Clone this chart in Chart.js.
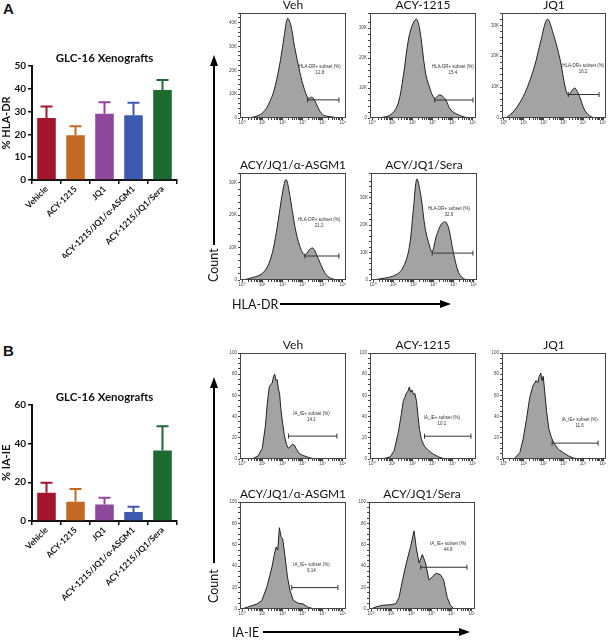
<!DOCTYPE html>
<html><head><meta charset="utf-8">
<script src="https://cdn.jsdelivr.net/npm/chart.js@4/dist/chart.umd.min.js"></script>
<style>
body{margin:0;background:#fff;width:609px;height:640px;position:relative;overflow:hidden;font-family:Lato,sans-serif}
.box{position:absolute}
.lbl{position:absolute;white-space:nowrap;color:#111}
</style></head><body>

<div class="lbl" style="left:3px;top:0px;font:bold 15px Arial">A</div>
<div class="lbl" style="left:3px;top:342px;font:bold 15px Arial">B</div>

<div class="box" style="left:0;top:46px;width:182px;height:212px"><canvas id="barA"></canvas></div>
<div class="box" style="left:0;top:385px;width:182px;height:217px"><canvas id="barB"></canvas></div>

<div class="box" style="left:218px;top:-2px;width:130px;height:132px"><canvas id="hA1"></canvas></div>
<div class="box" style="left:348px;top:-2px;width:130px;height:132px"><canvas id="hA2"></canvas></div>
<div class="box" style="left:480px;top:-2px;width:128px;height:132px"><canvas id="hA3"></canvas></div>
<div class="box" style="left:218px;top:158px;width:130px;height:134px"><canvas id="hA4"></canvas></div>
<div class="box" style="left:349px;top:158px;width:130px;height:134px"><canvas id="hA5"></canvas></div>

<div class="box" style="left:218px;top:338px;width:130px;height:133px"><canvas id="hB1"></canvas></div>
<div class="box" style="left:348px;top:338px;width:130px;height:133px"><canvas id="hB2"></canvas></div>
<div class="box" style="left:480px;top:338px;width:128px;height:133px"><canvas id="hB3"></canvas></div>
<div class="box" style="left:218px;top:487px;width:130px;height:134px"><canvas id="hB4"></canvas></div>
<div class="box" style="left:347px;top:487px;width:130px;height:134px"><canvas id="hB5"></canvas></div>

<svg class="box" style="left:0;top:0" width="609" height="640">
  <g stroke="#000" stroke-width="2" fill="#000">
    <line x1="214" y1="64" x2="214" y2="245"/>
    <polygon points="214,55 210,66 218,66" stroke="none"/>
    <line x1="280" y1="304" x2="442" y2="304"/>
    <polygon points="451,304 440,300 440,308" stroke="none"/>
    <line x1="214" y1="386" x2="214" y2="563"/>
    <polygon points="214,377 210,388 218,388" stroke="none"/>
    <line x1="263" y1="632" x2="461" y2="632"/>
    <polygon points="470,632 459,628 459,636" stroke="none"/>
  </g>
</svg>
<div class="lbl" style="left:200px;top:258px;font-size:12.5px;transform:rotate(-90deg);transform-origin:15px 9px;width:32px">Count</div>
<div class="lbl" style="left:232px;top:297px;font-size:12.5px">HLA-DR</div>
<div class="lbl" style="left:200px;top:579px;font-size:12.5px;transform:rotate(-90deg);transform-origin:15px 9px;width:32px">Count</div>
<div class="lbl" style="left:232px;top:625px;font-size:12.5px">IA-IE</div>

<script>
// bar charts
const groups = ['Vehicle', 'ACY-1215', 'JQ1', 'ACY-1215/JQ1/α-ASGM1', 'ACY-1215/JQ1/Sera'];
const barColors = ['#a3152a', '#c56a26', '#8e479c', '#3a5bb0', '#1d6a2f'];
const hlaMean = [27.1, 19.6, 29.0, 28.3, 39.4];
const hlaErr = [5.1, 3.9, 5.0, 5.5, 4.4];
const iaMean = [14.6, 9.9, 8.5, 4.7, 36.4];
const iaErr = [5.2, 6.6, 3.5, 2.6, 12.5];

// flow histograms, x in log10 decades, HLA-DR counts in thousands
const hlaVehX = [0, 0.57, 1.0, 1.3, 1.6, 1.9, 2.1, 2.25, 2.4, 2.6, 2.87, 3.07, 3.28, 3.44, 3.57, 3.77, 4.0, 4.26, 4.5, 4.67];
const hlaVehY = [0, 0.4, 2, 5.5, 12, 24, 35, 41.7, 39.6, 30, 19, 12.5, 8.3, 8.7, 7.9, 4.2, 1.4, 0.7, 0.4, 0];
const hlaAcyX = [0, 0.6, 1.0, 1.3, 1.55, 1.8, 2.0, 2.2, 2.35, 2.5, 2.65, 2.84, 3.09, 3.33, 3.5, 3.66, 3.9, 4.3, 4.6, 4.8];
const hlaAcyY = [0, 0.3, 1.5, 5, 14, 26, 31, 33, 30, 22.7, 15, 10.4, 6.6, 7.7, 7.2, 6, 2.7, 1, 0.3, 0];
const hlaJq1X = [0.1, 0.55, 1.05, 1.53, 1.86, 2.19, 2.5, 2.84, 3.09, 3.25, 3.42, 3.58, 3.82, 4.07, 4.4, 4.7];
const hlaJq1Y = [0, 2.6, 8, 16.5, 25, 32, 27, 18.7, 10, 7.4, 8.8, 9.7, 6.9, 2.6, 0.4, 0];
const hlaAsgX = [0, 0.25, 1.0, 1.4, 1.72, 1.97, 2.18, 2.38, 2.62, 2.87, 3.11, 3.36, 3.52, 3.77, 4.02, 4.26, 4.5, 4.75];
const hlaAsgY = [0, 0.3, 2, 6.2, 15.4, 25.7, 31, 25.7, 16.4, 10.3, 7.7, 9.5, 9.8, 6.7, 3.1, 1, 0.3, 0];
const hlaSerX = [0, 0.17, 1.02, 1.44, 1.78, 2.0, 2.17, 2.37, 2.59, 2.8, 2.93, 3.14, 3.39, 3.59, 3.76, 3.98, 4.24, 4.49, 4.75];
const hlaSerY = [0, 0.2, 1.5, 3.9, 11.2, 25.9, 36.8, 30.7, 18.5, 12.4, 10.2, 16.1, 20.4, 21.2, 18.5, 10, 2.7, 0.5, 0];

// IA-IE counts
const iaVehX = [0.5, 0.8, 1.0, 1.15, 1.25, 1.35, 1.42, 1.5, 1.56, 1.62, 1.68, 1.74, 1.8, 1.86, 1.92, 2.0, 2.1, 2.2, 2.3, 2.4, 2.5, 2.6, 2.7, 2.85, 3.0, 3.3, 3.6];
const iaVehY = [0, 3, 10, 30, 52, 68, 70, 72, 78, 80, 74, 75, 66, 62, 48, 35, 22, 14, 10, 12, 14, 13, 9, 5, 3.5, 1.5, 0];
const iaAcyX = [0.5, 0.9, 1.1, 1.3, 1.45, 1.55, 1.62, 1.7, 1.78, 1.85, 1.92, 1.98, 2.05, 2.12, 2.2, 2.28, 2.35, 2.45, 2.6, 2.8, 3.0, 3.3, 3.6];
const iaAcyY = [0, 2, 8, 25, 42, 55, 58, 62, 64, 68, 63, 65, 61, 62, 55, 40, 28, 18, 12, 8, 5, 2, 0];
const iaJq1X = [0.5, 0.8, 0.96, 1.13, 1.3, 1.46, 1.62, 1.7, 1.78, 1.86, 1.92, 1.98, 2.05, 2.15, 2.27, 2.4, 2.52, 2.75, 3.0, 3.25, 3.5, 3.8];
const iaJq1Y = [0, 6, 18, 37, 58, 69, 74, 72, 78, 81, 74, 78, 65, 45, 28, 20, 15, 9, 6, 3, 1, 0];
const iaAsgX = [0, 0.25, 0.74, 0.98, 1.23, 1.48, 1.59, 1.69, 1.77, 1.85, 1.93, 2.02, 2.13, 2.25, 2.38, 2.54, 2.79, 3.03, 3.28, 3.6];
const iaAsgY = [0, 1.6, 4.7, 7.9, 20.5, 39, 50, 58, 55, 76, 68, 65, 49, 30, 17, 8, 5.4, 4.7, 1.6, 0];
const iaSerX = [0, 0.25, 0.57, 0.98, 1.23, 1.39, 1.56, 1.75, 1.97, 2.13, 2.25, 2.38, 2.54, 2.7, 2.87, 3.03, 3.23, 3.44, 3.6, 3.77, 3.93, 4.1];
const iaSerY = [0, 2, 3.5, 4, 5, 11, 27, 43, 59, 73, 56, 43, 51, 43, 27, 30, 33.5, 32, 27, 11, 3.5, 0];

// gates: [from, to, level, label x, label y, percent]
const hlaGates = [
  [3.25, 4.8, 7.6, 3.85, 21.5, '12.8'],
  [3.1, 5.0, 6, 4.0, 17, '15.4'],
  [3.25, 4.8, 7.6, 4.0, 16.8, '16.2'],
  [3.11, 4.8, 7.4, 3.82, 18.7, '21.2'],
  [2.93, 4.95, 9.8, 3.76, 26, '32.6']
];
const iaGates = [
  [2.3, 4.7, 21.6, 3.44, 43, '14.1'],
  [2.6, 4.9, 21.5, 3.46, 39, '10.1'],
  [2.43, 4.75, 15, 3.82, 37, '11.6'],
  [2.46, 4.75, 20, 3.44, 41, '9.14'],
  [2.46, 4.75, 39, 3.82, 61, '44.8']
];
const histTitles = ['Veh', 'ACY-1215', 'JQ1', 'ACY/JQ1/α-ASGM1', 'ACY/JQ1/Sera'];

Chart.defaults.font.family = 'Lato';
Chart.defaults.animation = false;

const errBars = {
  id: 'errBars',
  afterDatasetsDraw(chart, args, o) {
    const {ctx} = chart, y = chart.scales.y;
    const meta = chart.getDatasetMeta(0);
    ctx.save();
    ctx.lineWidth = 2;
    meta.data.forEach((bar, i) => {
      const v = chart.data.datasets[0].data[i] + o.errs[i];
      const py = y.getPixelForValue(v);
      ctx.strokeStyle = barColors[i];
      ctx.beginPath();
      ctx.moveTo(bar.x, bar.y); ctx.lineTo(bar.x, py);
      ctx.moveTo(bar.x - 6, py); ctx.lineTo(bar.x + 6, py);
      ctx.stroke();
    });
    ctx.restore();
  }
};

function barChart(id, means, errs, yMax, yTitle, xh) {
  new Chart(document.getElementById(id), {
    type: 'bar',
    data: { labels: groups, datasets: [{ data: means, backgroundColor: barColors, barPercentage: 0.64, categoryPercentage: 1 }] },
    options: {
      responsive: true, maintainAspectRatio: false,
      layout: { padding: { right: 5 } },
      plugins: {
        legend: { display: false }, tooltip: { enabled: false },
        title: { display: true, text: 'GLC-16 Xenografts', fullSize: false, color: '#111',
          font: { weight: 'bold', size: 11.5 }, padding: { top: 5, bottom: 1 } },
        errBars: { errs }
      },
      scales: {
        x: {
          grid: { drawOnChartArea: false, tickLength: 4, color: '#111', lineWidth: 1.5 },
          border: { color: '#111', width: 2 },
          ticks: { font: { weight: 'bold', size: 8.5 }, color: '#111', maxRotation: 45, minRotation: 45, autoSkip: false, padding: 0 },
          afterFit: s => { s.height = xh; }
        },
        y: {
          min: 0, max: yMax,
          grid: { drawOnChartArea: false, tickLength: 4, color: '#111', lineWidth: 1.5 },
          border: { color: '#111', width: 2 },
          ticks: { stepSize: yMax === 60 ? 20 : 10, font: { weight: 'bold', size: 10 }, color: '#111', padding: 2 },
          title: { display: true, text: yTitle, color: '#111', font: { weight: 'bold', size: 11 }, padding: 0 },
          afterFit: s => { s.width = 32; }
        }
      }
    },
    plugins: [errBars]
  });
}

const framePlugin = {
  id: 'frame',
  afterDatasetsDraw(chart, args, o) {
    const {ctx, chartArea: a, scales: {x, y}} = chart;
    ctx.save();
    ctx.strokeStyle = '#444'; ctx.lineWidth = 1;
    ctx.strokeRect(Math.round(a.left) + 0.5, Math.round(a.top) + 0.5, Math.round(a.width) - 1, Math.round(a.height) - 1);
    const g = o.gate;
    const px0 = x.getPixelForValue(g[0]), px1 = x.getPixelForValue(g[1]), py = y.getPixelForValue(g[2]);
    ctx.strokeStyle = '#333';
    ctx.beginPath();
    ctx.moveTo(px0, py); ctx.lineTo(px1, py);
    ctx.moveTo(px0, py - 2.5); ctx.lineTo(px0, py + 2.5);
    ctx.moveTo(px1, py - 2.5); ctx.lineTo(px1, py + 2.5);
    ctx.stroke();
    ctx.fillStyle = '#333'; ctx.font = '4.5px Arial';
    ctx.textAlign = 'center'; ctx.textBaseline = 'middle';
    const tx = x.getPixelForValue(g[3]), ty = y.getPixelForValue(g[4]);
    ctx.fillText(o.name, tx, ty);
    ctx.fillText(g[5], tx, ty + 6);
    ctx.restore();
  }
};

const sup = ['⁰', '¹', '²', '³', '⁴', '⁵'];
function hist(id, xs, ys, title, yMax, yStep, yMajor, suffix, gate, name, tension) {
  new Chart(document.getElementById(id), {
    type: 'line',
    data: { datasets: [{ data: xs.map((v, i) => ({ x: v, y: ys[i] })), fill: 'origin',
      backgroundColor: '#a3a3a3', borderColor: '#222', borderWidth: 1, pointRadius: 0, tension }] },
    options: {
      responsive: true, maintainAspectRatio: false,
      layout: { padding: { right: 2 } },
      plugins: {
        legend: { display: false }, tooltip: { enabled: false },
        title: { display: true, text: title, fullSize: false, color: '#111',
          font: { size: 12, weight: 'normal', lineHeight: 1 }, padding: { top: 1, bottom: 2 } },
        frame: { gate, name }
      },
      scales: {
        x: {
          type: 'linear', min: -0.1, max: 5.15,
          afterBuildTicks: s => {
            const t = [];
            for (let n = 0; n <= 5; n++) {
              t.push({ value: n });
              if (n < 5) for (let k = 2; k <= 9; k++) t.push({ value: n + Math.log10(k) });
            }
            s.ticks = t;
          },
          grid: { drawOnChartArea: false, tickLength: 2, color: '#444' },
          border: { display: false },
          ticks: { autoSkip: false, maxRotation: 0, padding: 0, color: '#444', font: { family: 'Arial', size: 4.5 },
            callback: v => { const r = Math.round(v); return Math.abs(v - r) < 1e-6 ? '10' + sup[r] : ''; } },
          afterFit: s => { s.height = 12; }
        },
        y: {
          min: 0, max: yMax,
          grid: { drawOnChartArea: false, tickLength: 2, color: '#444' },
          border: { display: false },
          ticks: { stepSize: yStep, autoSkip: false, padding: 1, color: '#444', font: { family: 'Arial', size: 4.5 },
            callback: v => (Math.abs(v % yMajor) < 1e-6 ? (v === 0 ? '0' : v + suffix) : '') },
          afterFit: s => { s.width = 22; }
        }
      }
    },
    plugins: [framePlugin]
  });
}

barChart('barA', hlaMean, hlaErr, 50, '% HLA-DR', 78);
barChart('barB', iaMean, iaErr, 60, '% IA-IE', 81);

const hlaName = 'HLA-DR+ subset (%)';
hist('hA1', hlaVehX, hlaVehY, histTitles[0], 44, 2, 10, 'K', hlaGates[0], hlaName, 0.35);
hist('hA2', hlaAcyX, hlaAcyY, histTitles[1], 35, 2, 10, 'K', hlaGates[1], hlaName, 0.35);
hist('hA3', hlaJq1X, hlaJq1Y, histTitles[2], 34, 2, 10, 'K', hlaGates[2], hlaName, 0.35);
hist('hA4', hlaAsgX, hlaAsgY, histTitles[3], 33, 2, 10, 'K', hlaGates[3], hlaName, 0.35);
hist('hA5', hlaSerX, hlaSerY, histTitles[4], 39, 2, 10, 'K', hlaGates[4], hlaName, 0.35);

const iaName = 'IA_IE+ subset (%)';
hist('hB1', iaVehX, iaVehY, histTitles[0], 100, 5, 20, '', iaGates[0], iaName, 0);
hist('hB2', iaAcyX, iaAcyY, histTitles[1], 100, 5, 20, '', iaGates[1], iaName, 0);
hist('hB3', iaJq1X, iaJq1Y, histTitles[2], 100, 5, 20, '', iaGates[2], iaName, 0);
hist('hB4', iaAsgX, iaAsgY, histTitles[3], 100, 5, 20, '', iaGates[3], iaName, 0);
hist('hB5', iaSerX, iaSerY, histTitles[4], 100, 5, 20, '', iaGates[4], iaName, 0);
</script>
</body></html>
